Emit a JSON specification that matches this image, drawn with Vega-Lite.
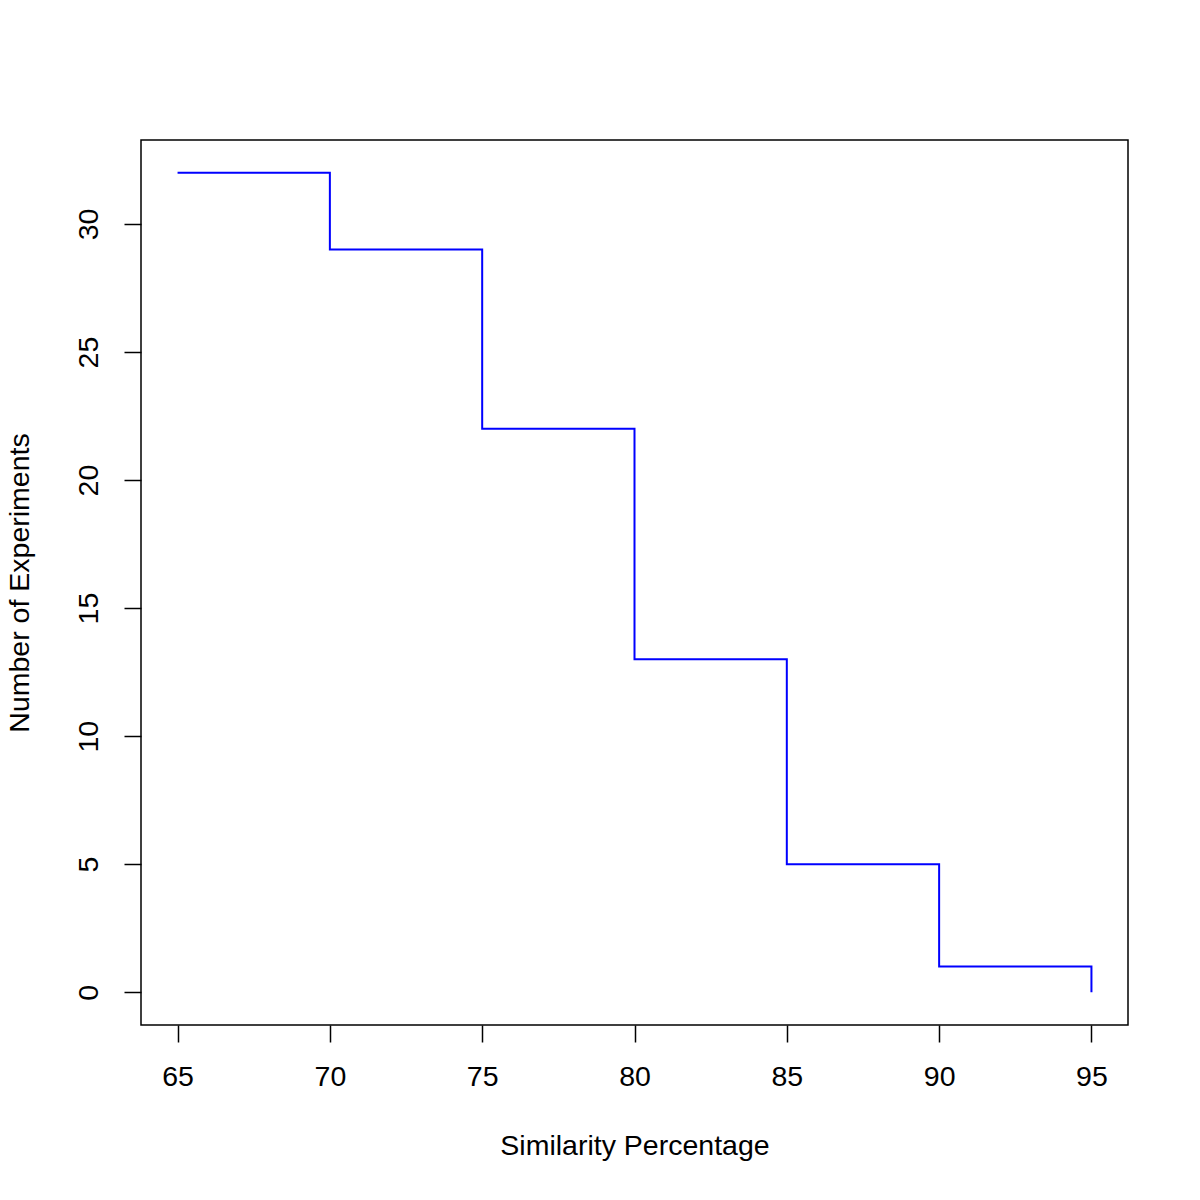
{
  "$schema": "https://vega.github.io/schema/vega-lite/v6.json",
  "width": 987,
  "height": 885,
  "autosize": {"type": "none"},
  "padding": {"left": 141, "top": 140, "right": 72, "bottom": 175},
  "background": "white",
  "config": {
    "view": {"stroke": "black", "strokeWidth": 1.5},
    "font": "Liberation Sans",
    "axis": {"grid": false, "domain": false, "tickColor": "black", "tickWidth": 1.5, "tickSize": 17, "labelColor": "black", "titleColor": "black", "labelFont": "Liberation Sans", "titleFont": "Liberation Sans", "labelFontSize": 28.5, "titleFontSize": 28.5, "titleFontWeight": "normal"}
  },
  "data": {"values": [
    {"similarity": 65, "count": 32},
    {"similarity": 70, "count": 29},
    {"similarity": 75, "count": 22},
    {"similarity": 80, "count": 13},
    {"similarity": 85, "count": 5},
    {"similarity": 90, "count": 1},
    {"similarity": 95, "count": 0}
  ]},
  "mark": {"type": "line", "interpolate": "step-after", "color": "#0000FF", "strokeWidth": 2},
  "encoding": {
    "x": {"field": "similarity", "type": "quantitative", "title": "Similarity Percentage",
      "scale": {"domain": [63.8, 96.2], "nice": false, "zero": false},
      "axis": {"values": [65, 70, 75, 80, 85, 90, 95], "labelPadding": 20, "titlePadding": 41}},
    "y": {"field": "count", "type": "quantitative", "title": "Number of Experiments",
      "scale": {"domain": [-1.28, 33.28], "nice": false, "zero": false},
      "axis": {"values": [0, 5, 10, 15, 20, 25, 30], "labelAngle": -90, "labelAlign": "center", "labelBaseline": "bottom", "labelPadding": 21, "titlePadding": 40}}
  }
}
